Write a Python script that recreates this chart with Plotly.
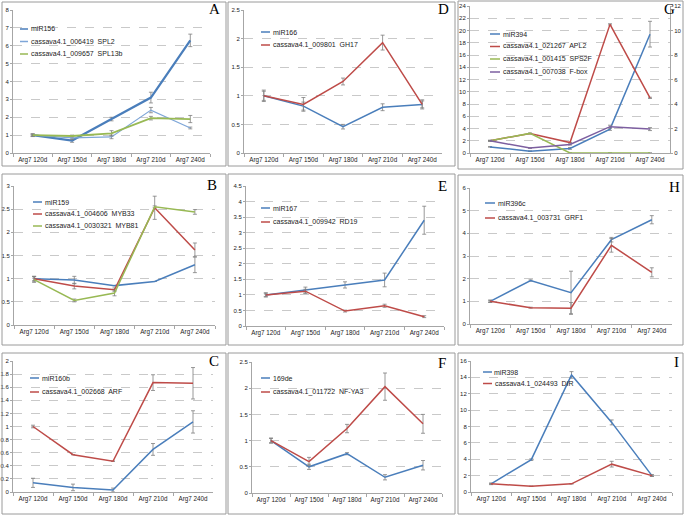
import plotly.graph_objects as go

W, H = 685, 516

categories = ["Arg7 120d", "Arg7 150d", "Arg7 180d", "Arg7 210d", "Arg7 240d"]

# Panel A
A_miR156 = [1.0, 0.70, 1.90, 3.10, 6.30]
A_miR156_err = [0.08, 0.10, 0.10, 0.30, 0.35]
A_SPL2 = [1.0, 0.85, 0.90, 2.40, 1.40]
A_SPL2_err = [0.05, 0.10, 0.10, 0.15, 0.05]
A_SPL13b = [1.0, 0.95, 1.10, 1.95, 1.90]
A_SPL13b_err = [0.05, 0.05, 0.15, 0.10, 0.20]

# Panel D
D_miR166 = [1.0, 0.82, 0.46, 0.80, 0.85]
D_miR166_err = [0.08, 0.07, 0.04, 0.06, 0.06]
D_GH17 = [1.0, 0.85, 1.25, 1.93, 0.85]
D_GH17_err = [0.10, 0.12, 0.06, 0.13, 0.08]

# Panel G (miR394 on left axis, targets on right axis)
G_miR394 = [1.0, 0.30, 0.75, 3.90, 19.4]
G_miR394_err = [0.05, 0.05, 0.15, 0.20, 2.10]
G_APL2 = [1.0, 1.60, 0.85, 10.5, 4.50]
G_APL2_err = [0.02, 0.02, 0.02, 0.05, 0.05]
G_SPS2F = [1.0, 1.60, 0.0, 0.0, 0.0]
G_SPS2F_err = [0.02, 0.02, 0.0, 0.0, 0.0]
G_Fbox = [1.0, 0.40, 0.70, 2.15, 1.95]
G_Fbox_err = [0.05, 0.02, 0.05, 0.12, 0.12]

# Panel B
B_miR159 = [1.0, 0.97, 0.85, 0.94, 1.30]
B_miR159_err = [0.05, 0.08, 0.0, 0.0, 0.17]
B_MYB33 = [1.0, 0.84, 0.76, 2.53, 1.62]
B_MYB33_err = [0.05, 0.06, 0.04, 0.25, 0.15]
B_MYB81 = [0.98, 0.53, 0.69, 2.55, 2.44]
B_MYB81_err = [0.06, 0.03, 0.06, 0.02, 0.05]

# Panel E
E_miR167 = [1.0, 1.15, 1.32, 1.48, 3.40]
E_miR167_err = [0.05, 0.10, 0.10, 0.22, 0.45]
E_RD19 = [1.0, 1.12, 0.48, 0.65, 0.30]
E_RD19_err = [0.07, 0.06, 0.03, 0.05, 0.03]

# Panel H
H_miR396c = [1.0, 1.92, 1.38, 3.72, 4.60]
H_miR396c_err = [0.05, 0.03, 0.95, 0.10, 0.18]
H_GRF1 = [1.0, 0.72, 0.70, 3.47, 2.28]
H_GRF1_err = [0.05, 0.02, 0.25, 0.30, 0.20]

# Panel C
C_miR160b = [0.14, 0.07, 0.03, 0.65, 1.07]
C_miR160b_err = [0.07, 0.05, 0.03, 0.09, 0.17]
C_ARF = [1.0, 0.57, 0.47, 1.67, 1.66]
C_ARF_err = [0.02, 0.0, 0.0, 0.12, 0.24]

# Panel F
F_169de = [1.0, 0.50, 0.75, 0.30, 0.53]
F_169de_err = [0.05, 0.05, 0.02, 0.05, 0.09]
F_NFYA3 = [1.0, 0.60, 1.23, 2.03, 1.32]
F_NFYA3_err = [0.04, 0.08, 0.08, 0.26, 0.18]

# Panel I
I_miR398 = [1.0, 3.95, 14.3, 8.50, 2.0]
I_miR398_err = [0.10, 0.10, 0.40, 0.30, 0.10]
I_DIR = [1.0, 0.70, 1.0, 3.40, 2.0]
I_DIR_err = [0.05, 0.03, 0.03, 0.35, 0.10]

BLUE = "#4A7EBB"
LBLUE = "#7EA6D8"
RED = "#BE4B48"
GREEN = "#98B954"
PURPLE = "#7D5FA0"

panels = [
    dict(letter="A", n=1, x=(13, 210), y=(10, 153), ymax=8, dt=1,
         box=(2, 2, 226, 166), lab=(222, 9),
         leg=(20, 28, [29, 41.5, 54]),
         series=[("miR156", A_miR156, A_miR156_err, BLUE, 2.2),
                 ("cassava4.1_006419  SPL2", A_SPL2, A_SPL2_err, LBLUE, 1.2),
                 ("cassava4.1_009657  SPL13b", A_SPL13b, A_SPL13b_err, GREEN, 1.8)]),
    dict(letter="D", n=2, x=(244, 442), y=(10, 153), ymax=2.5, dt=0.5,
         box=(228, 2, 455, 166), lab=(451, 9),
         leg=(261, 270, [32, 45]),
         series=[("miR166", D_miR166, D_miR166_err, BLUE, 1.5),
                 ("cassava4.1_009801  GH17", D_GH17, D_GH17_err, RED, 1.5)]),
    dict(letter="G", n=3, x=(470, 670), y=(6, 153), ymax=24, dt=2,
         box=(458, 1, 683, 169), lab=(677, 9),
         leg=(490, 500, [34, 46.5, 59, 72]),
         series=[("miR394", G_miR394, G_miR394_err, BLUE, 1.5),
                 ("cassava4.1_021267  APL2", G_APL2, G_APL2_err, RED, 1.5, "y10"),
                 ("cassava4.1_001415  SPS2F", G_SPS2F, G_SPS2F_err, GREEN, 1.5, "y10"),
                 ("cassava4.1_007038  F-box", G_Fbox, G_Fbox_err, PURPLE, 1.5, "y10")]),
    dict(letter="B", n=4, x=(14, 215), y=(186, 325), ymax=3, dt=0.5,
         box=(2, 174, 226, 345), lab=(219, 185),
         leg=(33, 42, [202, 214, 226]),
         series=[("miR159", B_miR159, B_miR159_err, BLUE, 1.5),
                 ("cassava4.1_004606  MYB33", B_MYB33, B_MYB33_err, RED, 1.5),
                 ("cassava4.1_0030321  MYB81", B_MYB81, B_MYB81_err, GREEN, 1.5)]),
    dict(letter="E", n=5, x=(246, 444), y=(186, 326), ymax=4.5, dt=0.5,
         box=(228, 174, 455, 345), lab=(449, 186),
         leg=(261, 270, [208, 222]),
         series=[("miR167", E_miR167, E_miR167_err, BLUE, 1.5),
                 ("cassava4.1_009942  RD19", E_RD19, E_RD19_err, RED, 1.5)]),
    dict(letter="H", n=6, x=(470, 672), y=(188, 324), ymax=6, dt=1,
         box=(458, 175, 683, 345), lab=(682, 187),
         leg=(485, 495, [203, 218]),
         series=[("miR396c", H_miR396c, H_miR396c_err, BLUE, 1.5),
                 ("cassava4.1_003731  GRF1", H_GRF1, H_GRF1_err, RED, 1.5)]),
    dict(letter="C", n=7, x=(13, 213), y=(361, 492), ymax=2, dt=0.2,
         box=(2, 353, 226, 514), lab=(221, 361),
         leg=(30, 39, [378, 392]),
         series=[("miR160b", C_miR160b, C_miR160b_err, BLUE, 1.5),
                 ("cassava4.1_002668  ARF", C_ARF, C_ARF_err, RED, 1.5)]),
    dict(letter="F", n=8, x=(252, 442), y=(362, 493), ymax=2.5, dt=0.5,
         box=(228, 353, 455, 514), lab=(448, 363),
         leg=(261, 270, [378, 392]),
         series=[("169de", F_169de, F_169de_err, BLUE, 1.5),
                 ("cassava4.1_011722  NF-YA3", F_NFYA3, F_NFYA3_err, RED, 1.5)]),
    dict(letter="I", n=9, x=(471, 672), y=(361, 492), ymax=16, dt=2,
         box=(458, 353, 683, 514), lab=(681, 362),
         leg=(483, 492, [372, 383.5]),
         series=[("miR398", I_miR398, I_miR398_err, BLUE, 1.5),
                 ("cassava4.1_024493  DIR", I_DIR, I_DIR_err, RED, 1.5)]),
]


def px(v):
    return v / W


def py(v):
    return 1 - v / H


FONT = "Liberation Sans"
fig = go.Figure()
shapes = []
annotations = []
layout = {}

for p in panels:
    n = p["n"]
    xa = "x" if n == 1 else f"x{n}"
    ya = "y" if n == 1 else f"y{n}"
    for s in p["series"]:
        name, vals, err, col, lw = s[:5]
        yax = s[5] if len(s) > 5 else ya
        fig.add_trace(go.Scatter(
            x=categories, y=vals, mode="lines", name=name,
            line=dict(color=col, width=lw),
            error_y=dict(type="data", array=err, color="#7f7f7f", thickness=0.8, width=2),
            xaxis=xa, yaxis=yax, showlegend=False))
    kx = "xaxis" if n == 1 else f"xaxis{n}"
    ky = "yaxis" if n == 1 else f"yaxis{n}"
    layout[kx] = dict(domain=[px(p["x"][0]), px(p["x"][1])], anchor=ya,
                      type="category", range=[-0.5, 4.5], showgrid=False,
                      showline=True, linecolor="#a6a6a6", linewidth=1,
                      ticks="outside", tickson="boundaries", ticklen=3, tickcolor="#a6a6a6",
                      tickangle=0, automargin=False,
                      tickfont=dict(family=FONT, size=6.3, color="#222"), zeroline=False)
    layout[ky] = dict(domain=[py(p["y"][1]), py(p["y"][0])], anchor=xa,
                      range=[0, p["ymax"]], dtick=p["dt"], tick0=0,
                      showgrid=True, gridcolor="#c9c9c9", griddash="dash", gridwidth=0.8,
                      showline=True, linecolor="#a6a6a6", linewidth=1,
                      ticks="outside", ticklen=2, tickcolor="#a6a6a6", automargin=False,
                      tickfont=dict(family=FONT, size=6, color="#222"), zeroline=False)
    # panel frame
    bx0, by0, bx1, by1 = p["box"]
    shapes.append(dict(type="rect", xref="paper", yref="paper",
                       x0=px(bx0), x1=px(bx1), y0=py(by1), y1=py(by0),
                       line=dict(color="#9a9a9a", width=1)))
    # panel letter
    annotations.append(dict(text=p["letter"], xref="paper", yref="paper",
                            x=px(p["lab"][0]), y=py(p["lab"][1]), showarrow=False,
                            xanchor="right", yanchor="middle",
                            font=dict(family="Liberation Serif", size=15, color="#000")))
    # legend
    lx0, lx1, ys = p["leg"]
    for s, yy in zip(p["series"], ys):
        shapes.append(dict(type="line", xref="paper", yref="paper",
                           x0=px(lx0), x1=px(lx1), y0=py(yy), y1=py(yy),
                           line=dict(color=s[3], width=1.5)))
        annotations.append(dict(text=s[0], xref="paper", yref="paper",
                                x=px(lx1 + 0.5), y=py(yy), showarrow=False,
                                xanchor="left", yanchor="middle",
                                font=dict(family=FONT, size=7, color="#222")))

# secondary axis for panel G
layout["yaxis10"] = dict(overlaying="y3", side="right", anchor="x3",
                         range=[0, 12], dtick=2, tick0=0, showgrid=False,
                         showline=True, linecolor="#a6a6a6", linewidth=1,
                         ticks="outside", ticklen=2, tickcolor="#a6a6a6", automargin=False,
                         tickfont=dict(family=FONT, size=6, color="#222"), zeroline=False)

fig.update_layout(width=W, height=H, margin=dict(l=0, r=0, t=0, b=0),
                  paper_bgcolor="white", plot_bgcolor="white",
                  shapes=shapes, annotations=annotations, **layout)

fig.write_html("out.html", config={"displayModeBar": False},
               post_script="document.body.style.margin='0';document.body.style.overflow='hidden';")
